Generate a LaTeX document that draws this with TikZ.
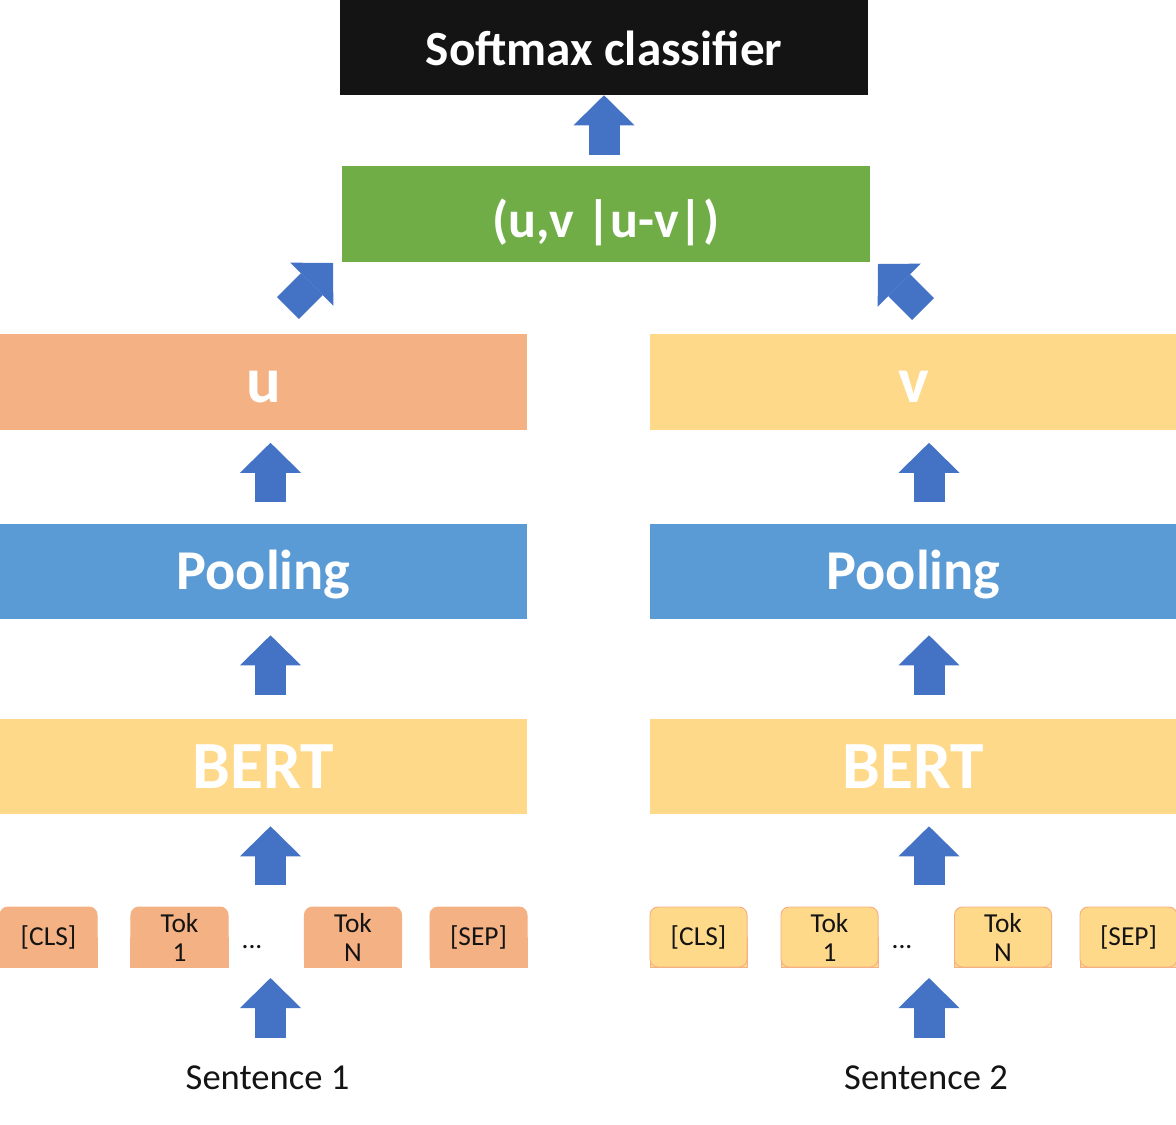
\documentclass[tikz,border=0pt]{standalone}
\usepackage{fontspec}
\setmainfont{Carlito}
\usetikzlibrary{arrows.meta,backgrounds}
\definecolor{arrowblue}{HTML}{4472C4}
\definecolor{poolblue}{HTML}{5B9BD5}
\definecolor{salmon}{HTML}{F4B183}
\definecolor{gold}{HTML}{FFD98A}
\definecolor{leaf}{HTML}{70AD47}
\definecolor{ink}{HTML}{141414}
\tikzset{
  layer/.style={minimum width=13.175cm, minimum height=2.375cm, inner sep=0pt, text=white, text depth=0pt},
  tok/.style={minimum width=2.425cm, minimum height=1.5cm, inner sep=0pt, outer sep=0pt, align=center, text=ink,
    fill=#1, draw=salmon, line width=0.7pt, rounded corners=0.2cm, font=\fontsize{19.5}{20.6}\selectfont},
  blockarrow/.style={draw=arrowblue, line width=0.775cm, -{Triangle[length=0.75cm,width=1.525cm,line width=0pt]}},
}

\begin{document}
\begin{tikzpicture}[x=0.025cm,y=-0.025cm]
  \useasboundingbox (0,0) rectangle (1176,1124);
  % classifier on top
  \node[layer, fill=ink, font=\bfseries\fontsize{35}{42}\selectfont, text height=26pt] (soft) at (604,47.5) {Softmax classifier};
  \node[layer, fill=leaf, font=\bfseries\fontsize{37}{44}\selectfont, text height=34pt] (combo) at (606,214) {(u,v |u-v|)};
  \draw[blockarrow, shorten <=0.275cm] (combo.north -| soft.south) -- (soft.south);
  % one branch per sentence
  \foreach \side/\bx/\ax/\col/\out/\num in {L/0/270.5/salmon/u/1, R/650/929/gold/v/2}{
    \coordinate (col\side) at (\ax,0);
    \node[layer, fill=\col, font=\bfseries\fontsize{46}{55}\selectfont, text height=29.6pt] (vec\side) at (\bx+263.5,382) {\out};
    \node[layer, fill=poolblue, font=\bfseries\fontsize{40}{48}\selectfont, text height=25.8pt] (pool\side) at (\bx+263.5,571.5) {Pooling};
    \node[layer, fill=gold, font=\bfseries\fontsize{48}{58}\selectfont, text height=30.9pt] (bert\side) at (\bx+263.5,766.5) {BERT};
    \foreach \t/\dx [count=\k] in {{[CLS]}/48.5, {Tok\\1}/179.5, {Tok\\N}/353, {[SEP]}/478.5}{
      \node[tok=\col] (tok\side\k) at (\bx+\dx,937) {\t};
      \begin{scope}[on background layer]
        \filldraw[fill=\col, draw=salmon, line width=0.7pt] (tok\side\k.west) rectangle (tok\side\k.south east);
      \end{scope}
    }
    \node[inner sep=0pt, text=ink, font=\fontsize{19.5}{20.6}\selectfont] (dots\side) at (\bx+252,947) {...};
    \node[inner sep=0pt, text=ink, font=\fontsize{26}{31}\selectfont] (sent\side) at (\ax-3,1078) {Sentence \num};
    \draw[blockarrow, shorten <=0.7cm, shorten >=0.275cm] (col\side |- sent\side.north) -- (col\side |- tok\side1.south);
    \draw[blockarrow, shorten <=0.55cm, shorten >=0.3cm] (col\side |- tok\side1.north) -- (col\side |- bert\side.south);
    \draw[blockarrow, shorten <=0.6cm, shorten >=0.4cm] (col\side |- bert\side.north) -- (col\side |- pool\side.south);
    \draw[blockarrow, shorten <=0.55cm, shorten >=0.325cm] (col\side |- pool\side.north) -- (col\side |- vec\side.south);
  }
  % arrows into the combination
  \coordinate (tailL) at (288,308);
  \coordinate (tipL) at (333,263);
  \coordinate (tailR) at (923,309);
  \coordinate (tipR) at (878,264);
  \draw[blockarrow] (tailL) -- (tipL);
  \draw[blockarrow] (tailR) -- (tipR);
\end{tikzpicture}
\end{document}
